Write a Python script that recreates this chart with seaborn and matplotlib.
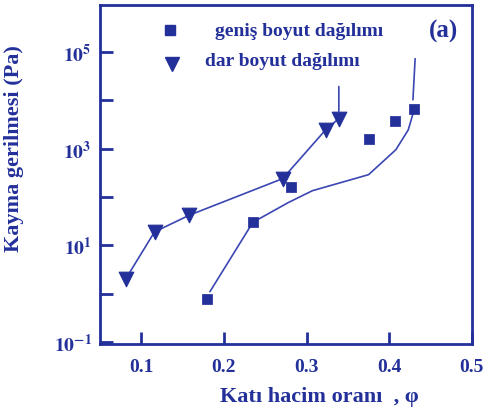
import numpy as np
import pandas as pd
import matplotlib
matplotlib.use('Agg')
import matplotlib.pyplot as plt
import seaborn as sns
from matplotlib.ticker import FixedLocator, FuncFormatter, NullLocator

# data
phi_genis = [0.180, 0.235, 0.281, 0.376, 0.407, 0.430]
tau_genis = [0.77, 30, 158, 1600, 3800, 6600]
phi_dar = [0.081, 0.116, 0.158, 0.271, 0.323, 0.339]
tau_dar = [2.0, 19, 42, 240, 2450, 4200]

# fitted curve for the wide distribution
fit_phi = [0.183, 0.235, 0.278, 0.307, 0.375, 0.408, 0.423, 0.429]
fit_tau = [1.1, 30, 77, 135, 290, 950, 2450, 5500]

col = '#23309a'
lcol = '#3a46b2'

sns.set_style('ticks')
plt.rcParams['font.family'] = ['Liberation Serif', 'DejaVu Serif']
plt.rcParams['font.weight'] = 'bold'
plt.rcParams['mathtext.fontset'] = 'stix'

fig = plt.figure(figsize=(4.83, 4.10), dpi=100)
ax = fig.add_axes([0.207, 0.159, 0.770, 0.826])

df_g = pd.DataFrame({'phi': phi_genis, 'tau': tau_genis})
df_d = pd.DataFrame({'phi': phi_dar, 'tau': tau_dar})
df_fit = pd.DataFrame({'phi': fit_phi, 'tau': fit_tau})

sns.lineplot(x='phi', y='tau', data=df_d, ax=ax, color=lcol, lw=1.2, sort=False)
sns.lineplot(x='phi', y='tau', data=df_fit, ax=ax, color=lcol, lw=1.2, sort=False)
sns.scatterplot(x='phi', y='tau', data=df_g, ax=ax, marker='s', s=45, color=col,
                edgecolor=col, zorder=5)
sns.scatterplot(x='phi', y='tau', data=df_d, ax=ax, marker='v', s=110, color=col,
                edgecolor=col, zorder=5)

# pointer lines
ax.annotate('', xy=(phi_dar[-1], 5200), xytext=(phi_dar[-1], 22000),
            arrowprops=dict(arrowstyle='-', color=lcol, lw=1.2))
ax.annotate('', xy=(0.4285, 9000), xytext=(0.4315, 83000),
            arrowprops=dict(arrowstyle='-', color=lcol, lw=1.2))

ax.set_yscale('log')
ax.set_xlim(0.05, 0.5)
ax.set_ylim(0.092, 9.3e5)

ax.set_xticks([0.1, 0.2, 0.3, 0.4, 0.5])
ax.set_xticklabels(['0.1', '0.2', '0.3', '0.4', '0.5'])
ax.yaxis.set_major_locator(FixedLocator([10.0**k for k in range(-1, 6)]))
ax.yaxis.set_minor_locator(NullLocator())
ax.yaxis.set_major_formatter(FuncFormatter(
    lambda v, p: r'$\mathbf{10^{%d}}$' % round(np.log10(v)) if round(np.log10(v)) % 2 else ''))

ax.tick_params(direction='in', length=9, width=2, colors=col, labelsize=14,
               top=False, right=False, pad=10)
ax.tick_params(axis='y', pad=6)
for lab in ax.get_xticklabels() + ax.get_yticklabels():
    lab.set_fontweight('bold')
for sp in ax.spines.values():
    sp.set_visible(True)
    sp.set_color(col)
    sp.set_linewidth(2)

ax.set_xlabel('Katı hacim oranı  , φ', fontsize=16, fontweight='bold', color=col)
ax.set_ylabel('Kayma gerilmesi (Pa)', fontsize=16, fontweight='bold', color=col)
ax.xaxis.set_label_coords(0.59, -0.125)
ax.yaxis.set_label_coords(-0.205, 0.58)

# legend drawn by hand
ax.plot([0.188], [0.926], 's', ms=7, color=col, transform=ax.transAxes)
ax.text(0.309, 0.926, 'geniş boyut dağılımı', transform=ax.transAxes,
        fontsize=14, fontweight='bold', color=col, va='center')
ax.plot([0.194], [0.826], 'v', ms=10, color=col, transform=ax.transAxes)
ax.text(0.282, 0.838, 'dar boyut dağılımı', transform=ax.transAxes,
        fontsize=14, fontweight='bold', color=col, va='center')
ax.text(0.925, 0.926, '(a)', transform=ax.transAxes, fontsize=18,
        fontweight='bold', color=col, ha='center', va='center')

fig.savefig('out.png', dpi=100)
